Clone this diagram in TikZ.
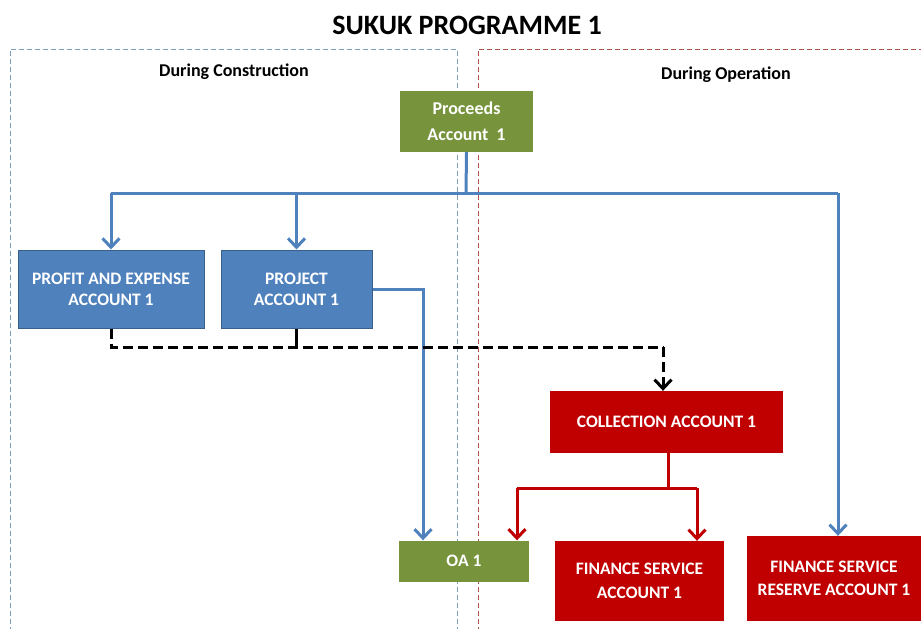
\documentclass[tikz,border=0pt]{standalone}
\usepackage{fontspec}
\setmainfont{Carlito}
\usetikzlibrary{arrows.meta}
\definecolor{cblue}{HTML}{4F81BD}
\definecolor{cblueedge}{HTML}{3A5F8B}
\definecolor{cgreen}{HTML}{77933C}
\definecolor{cred}{HTML}{C00000}
\definecolor{framebl}{HTML}{7F9DBF}
\definecolor{framerd}{HTML}{B0504D}
\tikzset{
  acct/.style={rectangle, inner sep=0pt, align=center, text=white, font=\bfseries\fontsize{17.5}{21}\selectfont},
  bluebox/.style={acct, fill=cblue, draw=cblueedge, line width=1pt},
  greenbox/.style={acct, fill=cgreen},
  redbox/.style={acct, fill=cred},
  tip/.style={-{Straight Barb[length=9pt,width=17pt]}},
  blueline/.style={draw=cblue, line width=3pt},
  redline/.style={draw=cred, line width=3pt},
  blackdash/.style={draw=black, line width=3pt, dash pattern=on 10pt off 5pt},
  frame/.style={line width=0.8pt, dash pattern=on 5pt off 3pt},
  heading/.style={font=\bfseries\fontsize{18}{21}\selectfont}
}
\begin{document}
\begin{tikzpicture}[x=1pt,y=-1pt]
\useasboundingbox (0,0) rectangle (921,629);
% frames
\draw[frame, draw=framebl] (10,640) -- (10,49) -- (457,49) -- (457,640);
\draw[frame, draw=framerd] (478,640) -- (478,49) -- (930,49);
% title & headings
\node[font=\bfseries\fontsize{28}{30}\selectfont] (title) at (467,25) {SUKUK PROGRAMME 1};
\node[heading] (hcons) at (234,72) {During Construction};
\node[heading] (hop) at (726,75) {During Operation};
% boxes
\node[greenbox, minimum width=133pt, minimum height=61pt, font=\bfseries\fontsize{18}{26}\selectfont] (proceeds) at (466.5,121.5) {Proceeds\\Account~~1};
\node[bluebox, minimum width=186pt, minimum height=78pt] (profit) at (111,289) {PROFIT AND EXPENSE\\ACCOUNT 1};
\node[bluebox, minimum width=151pt, minimum height=78pt] (project) at (296.5,289) {PROJECT\\ACCOUNT 1};
\node[redbox, minimum width=233pt, minimum height=62pt] (collection) at (666.5,422) {COLLECTION ACCOUNT 1};
\node[greenbox, minimum width=130pt, minimum height=41pt] (oa) at (464,561) {OA 1};
\node[redbox, minimum width=169pt, minimum height=80pt, font=\bfseries\fontsize{17.5}{24}\selectfont] (fsa) at (639.5,581) {FINANCE SERVICE\\ACCOUNT 1};
\node[redbox, minimum width=174pt, minimum height=85pt, font=\bfseries\fontsize{17.5}{23}\selectfont] (fsra) at (834,578.5) {FINANCE SERVICE\\RESERVE ACCOUNT 1};
% blue connectors
\coordinate (bj) at (466,193);
\coordinate (bl) at (111,193);
\coordinate (br) at (838,193);
\draw[blueline] (proceeds.south) -- (bj);
\draw[blueline] (bl) -- (br);
\draw[blueline, tip] (bl) -- (profit.north);
\draw[blueline, tip] (project.north |- bl) -- (project.north);
\draw[blueline, tip] (br) -- (br |- fsra.north);
\coordinate (pj) at (423,289);
\draw[blueline, tip] (project.east) -- (pj) -- (pj |- oa.north);
% black dashed
\coordinate (dl) at (111,347);
\coordinate (dr) at (663,347);
\draw[blackdash] (profit.south) -- (dl) -- (dr);
\draw[blackdash, tip] (dr) -- (dr |- collection.north);
\draw[black, line width=3pt] (project.south) -- (project.south |- dl);
% red connectors
\coordinate (rj) at (668,488);
\coordinate (rl) at (517,488);
\coordinate (rr) at (697,488);
\draw[redline] (rj |- collection.south) -- (rj);
\draw[redline] (rl) -- (rr);
\draw[redline, tip] (rl) -- (rl |- oa.north);
\draw[redline, tip] (rr) -- (rr |- fsa.north);
\end{tikzpicture}
\end{document}
